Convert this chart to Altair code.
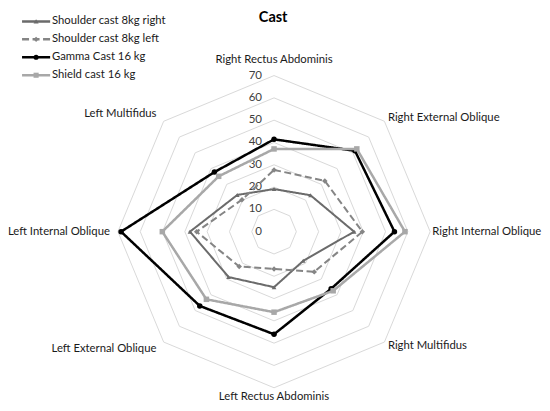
import altair as alt
import pandas as pd

categories = ["Right Rectus Abdominis", "Right External Oblique", "Right Internal Oblique",
              "Right Multifidus", "Left Rectus Abdominis", "Left External Oblique",
              "Left Internal Oblique", "Left Multifidus"]
series_names = ["Shoulder cast 8kg right", "Shoulder  cast 8kg left",
                "Gamma Cast 16 kg", "Shield cast 16 kg"]
shoulder_right = [19.1, 23.1, 35.9, 18.5, 24.9, 28.8, 37.7, 23.3]
shoulder_left = [27.7, 32.2, 39.6, 25.5, 16.7, 22.1, 34.7, 20.3]
gamma_cast = [41.4, 51.3, 54.0, 36.2, 46.0, 47.1, 68.6, 37.8]
shield_cast = [37.1, 52.5, 58.7, 37.5, 36.1, 42.9, 50.1, 35.1]
grid_levels = [10, 20, 30, 40, 50, 60, 70]
tick_values = [0, 10, 20, 30, 40, 50, 60, 70]
title_text = "Cast"

colors = ["#6b6b6b", "#858585", "#000000", "#a8a8a8"]
dashes = [[1, 0], [7, 3.5], [1, 0], [1, 0]]
shapes = ["triangle-up", "diamond", "circle", "square"]
FONT = "Lato"
FS = 11.3
N = len(categories)

series_values = [shoulder_right, shoulder_left, gamma_cast, shield_cast]
rows = []
for k, (name, vals) in enumerate(zip(series_names, series_values)):
    for i in range(N + 1):
        rows.append({"series": name, "sidx": k, "idx": i,
                     "category": categories[i % N], "value": vals[i % N]})
df = pd.DataFrame(rows)

grid_rows = [{"level": lv, "idx": i} for lv in grid_levels for i in range(N + 1)]
grid_df = pd.DataFrame(grid_rows)
tick_df = pd.DataFrame({"value": tick_values, "label": [str(v) for v in tick_values]})
cat_df = pd.DataFrame({"category": categories, "idx": list(range(N))})
leg_df = pd.DataFrame({"series": series_names, "k": list(range(len(series_names)))})
title_df = pd.DataFrame({"t": [title_text]})

# plot area: page x 8..542, y 8..403 ; centre at page (274, 231.7), 2.23 px per unit
xs = alt.Scale(domain=[-119.3, 120.16], zero=False, nice=False)
ys = alt.Scale(domain=[-76.83, 100.3], zero=False, nice=False)
color_scale = alt.Scale(domain=series_names, range=colors)
dash_scale = alt.Scale(domain=series_names, range=dashes)
shape_scale = alt.Scale(domain=series_names, range=shapes)

X = lambda f: alt.X(f, type="quantitative", scale=xs, axis=None)
Y = lambda f: alt.Y(f, type="quantitative", scale=ys, axis=None)

grid = alt.Chart(grid_df).transform_calculate(
    ang="datum.idx * PI / 4",
    gx="datum.level * sin(datum.ang)",
    gy="datum.level * cos(datum.ang)",
).mark_line(color="#d9d9d9", strokeWidth=1).encode(
    x=X("gx"), y=Y("gy"), detail="level:N", order="idx:Q")

ticks = alt.Chart(tick_df).transform_calculate(tx="0 * datum.value").mark_text(
    align="right", baseline="middle", dx=-12, font=FONT, fontSize=11.5, color="#404040"
).encode(x=X("tx"), y=Y("value"), text="label:N")

base = alt.Chart(df).transform_calculate(
    ang="datum.idx * PI / 4",
    px="datum.value * sin(datum.ang)",
    py="datum.value * cos(datum.ang)",
)

layers = [grid, ticks]
widths = [2, 2, 2.5, 2.5]
sizes = [22, 30, 30, 30]
for k, name in enumerate(series_names):
    sb = base.transform_filter(alt.datum.sidx == k)
    layers.append(sb.mark_line(strokeWidth=widths[k]).encode(
        x=X("px"), y=Y("py"), order="idx:Q",
        color=alt.Color("series:N", scale=color_scale, legend=None),
        strokeDash=alt.StrokeDash("series:N", scale=dash_scale, legend=None)))
    layers.append(sb.transform_filter(alt.datum.idx < N).mark_point(
        filled=True, opacity=1, size=sizes[k]).encode(
        x=X("px"), y=Y("py"),
        color=alt.Color("series:N", scale=color_scale, legend=None),
        shape=alt.Shape("series:N", scale=shape_scale, legend=None)))

cat_base = alt.Chart(cat_df).transform_calculate(
    ang="datum.idx * PI / 4",
    s="sin(datum.ang)",
    lr="datum.idx == 0 ? 77 : (datum.idx == 4 ? 74.2 : (datum.idx == 2 ? 71.0 : (datum.idx < 4 ? 72.2 : (datum.idx == 6 ? 73.6 : 74.6))))",
    lx="datum.lr * sin(datum.ang)",
    ly="datum.lr * cos(datum.ang)",
)
for cond, al in [("datum.s > 0.1", "left"), ("datum.s < -0.1", "right"),
                 ("abs(datum.s) <= 0.1", "center")]:
    layers.append(cat_base.transform_filter(cond).mark_text(
        align=al, baseline="middle", font=FONT, fontSize=FS, color="#1a1a1a"
    ).encode(x=X("lx"), y=Y("ly"), text="category:N"))

leg_base = alt.Chart(leg_df).transform_calculate(
    ly="94.3 - datum.k * 8.05", lx1="-113", lx2="-100.4", lm="-106.7", lt="-99.6")
layers.append(leg_base.mark_rule(strokeWidth=2.5).encode(
    x=X("lx1"), x2="lx2:Q", y=Y("ly"),
    color=alt.Color("series:N", scale=color_scale, legend=None),
    strokeDash=alt.StrokeDash("series:N", scale=dash_scale, legend=None)))
layers.append(leg_base.mark_point(filled=True, opacity=1, size=26).encode(
    x=X("lm"), y=Y("ly"),
    color=alt.Color("series:N", scale=color_scale, legend=None),
    shape=alt.Shape("series:N", scale=shape_scale, legend=None)))
layers.append(leg_base.mark_text(align="left", baseline="middle", font=FONT,
                                 fontSize=FS, color="#1a1a1a").encode(
    x=X("lt"), y=Y("ly"), text="series:N"))

layers.append(alt.Chart(title_df).transform_calculate(tx="-0.4", ty="96.0").mark_text(
    align="center", baseline="middle", font=FONT, fontSize=14.5, fontWeight="bold",
    color="#000000").encode(x=X("tx"), y=Y("ty"), text="t:N"))

chart = alt.layer(*layers).properties(
    width=534, height=395, autosize=alt.AutoSizeParams(type="none"), padding=0
).configure_view(stroke=None)

chart.save("out.html", embed_options={"renderer": "svg", "actions": False})
